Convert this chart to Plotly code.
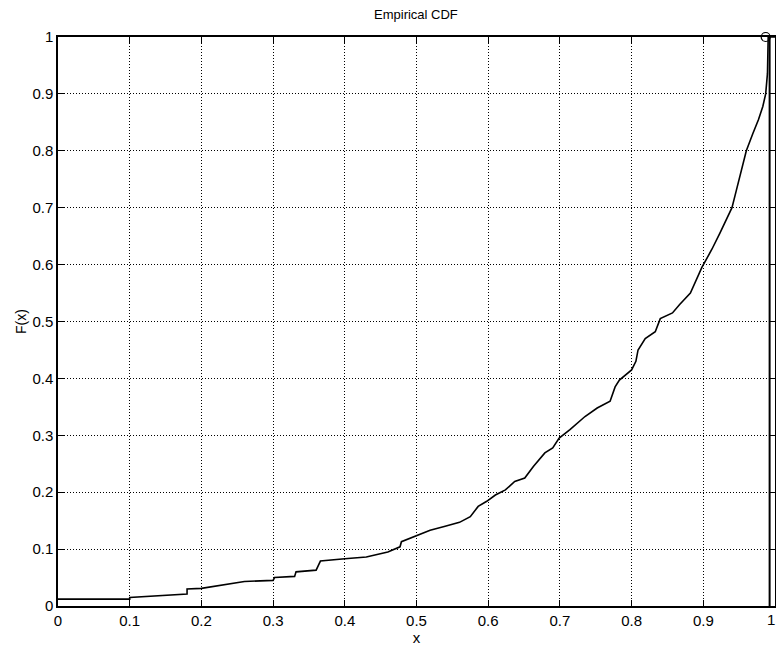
import plotly.graph_objects as go

# Empirical CDF
x_vals = [0.0, 0.1, 0.1, 0.18, 0.18, 0.2, 0.26, 0.3, 0.302, 0.33, 0.332, 0.36, 0.363, 0.366,
          0.4, 0.43, 0.46, 0.47, 0.477, 0.479, 0.498, 0.519, 0.54, 0.56, 0.575, 0.586, 0.598,
          0.61, 0.624, 0.637, 0.651, 0.663, 0.679, 0.69, 0.699, 0.714, 0.735, 0.752, 0.77,
          0.777, 0.783, 0.8, 0.806, 0.809, 0.819, 0.833, 0.84, 0.857, 0.867, 0.882, 0.898,
          0.912, 0.923, 0.932, 0.94, 0.946, 0.952, 0.96, 0.969, 0.977, 0.983, 0.987, 0.9895,
          0.990, 0.9905, 1.0]
f_vals = [0.012, 0.012, 0.015, 0.021, 0.030, 0.031, 0.043, 0.045, 0.05, 0.052, 0.06, 0.063, 0.071, 0.079,
          0.083, 0.086, 0.095, 0.1, 0.104, 0.113, 0.123, 0.133, 0.14, 0.147, 0.157, 0.175, 0.184,
          0.195, 0.204, 0.219, 0.225, 0.245, 0.269, 0.278, 0.295, 0.31, 0.333, 0.348, 0.36,
          0.385, 0.397, 0.415, 0.43, 0.45, 0.47, 0.482, 0.505, 0.515, 0.53, 0.55, 0.595,
          0.627, 0.655, 0.68, 0.70, 0.73, 0.76, 0.80, 0.83, 0.855, 0.878, 0.9, 0.936,
          0.966, 1.0, 1.0]

marker_x = [0.987]
marker_y = [1.0]

vline_x = [0.9925, 0.9925]
vline_y = [0.0, 1.0]

x_ticks = [0, 0.1, 0.2, 0.3, 0.4, 0.5, 0.6, 0.7, 0.8, 0.9, 1]
x_tick_labels = ["0", "0.1", "0.2", "0.3", "0.4", "0.5", "0.6", "0.7", "0.8", "0.9", "1"]
y_ticks = [0, 0.1, 0.2, 0.3, 0.4, 0.5, 0.6, 0.7, 0.8, 0.9, 1]
y_tick_labels = ["0", "0.1", "0.2", "0.3", "0.4", "0.5", "0.6", "0.7", "0.8", "0.9", "1"]

fig = go.Figure()
fig.add_trace(go.Scatter(x=x_vals, y=f_vals, mode="lines",
                         line=dict(color="black", width=1.6), showlegend=False))
fig.add_trace(go.Scatter(x=vline_x, y=vline_y, mode="lines",
                         line=dict(color="black", width=2), showlegend=False))
fig.add_trace(go.Scatter(x=marker_x, y=marker_y, mode="markers",
                         marker=dict(symbol="circle-open", size=9, color="black",
                                     line=dict(width=1.2, color="black")),
                         showlegend=False, cliponaxis=False))

font = "Liberation Sans, Arial, sans-serif"
axis_common = dict(
    range=[0, 1], showgrid=True, gridcolor="black", griddash="1px,2px", gridwidth=1,
    showline=True, linecolor="black", linewidth=1.5, mirror="ticks",
    ticks="inside", ticklen=6, tickcolor="black", tickwidth=1.2,
    zeroline=False, automargin=False,
    tickfont=dict(family=font, size=15, color="black"),
)

fig.update_layout(
    width=776, height=648,
    paper_bgcolor="white", plot_bgcolor="white",
    margin=dict(l=58, r=1, t=37, b=42, autoexpand=False),
    title=dict(text="Empirical CDF", x=0.536, xanchor="center", y=0.978, yanchor="middle",
               font=dict(family=font, size=13, color="black")),
    xaxis=dict(tickvals=x_ticks, ticktext=x_tick_labels,
               title=dict(text="x", font=dict(family=font, size=15, color="black"), standoff=2),
               **axis_common),
    yaxis=dict(tickvals=y_ticks, ticktext=y_tick_labels,
               title=dict(text="F(x)", font=dict(family=font, size=14, color="black"), standoff=2),
               **axis_common),
)

# last x tick label sits on the right edge of the window
fig.add_annotation(x=x_ticks[-1], xref="x", y=0, yref="paper", text=x_tick_labels[-1],
                   showarrow=False, xanchor="right", yanchor="top", yshift=-3, xshift=2,
                   font=dict(family=font, size=15, color="black"))

fig.write_html("out.html", config={"displayModeBar": False},
               post_script="document.body.style.margin='0';document.body.style.overflow='hidden';")
